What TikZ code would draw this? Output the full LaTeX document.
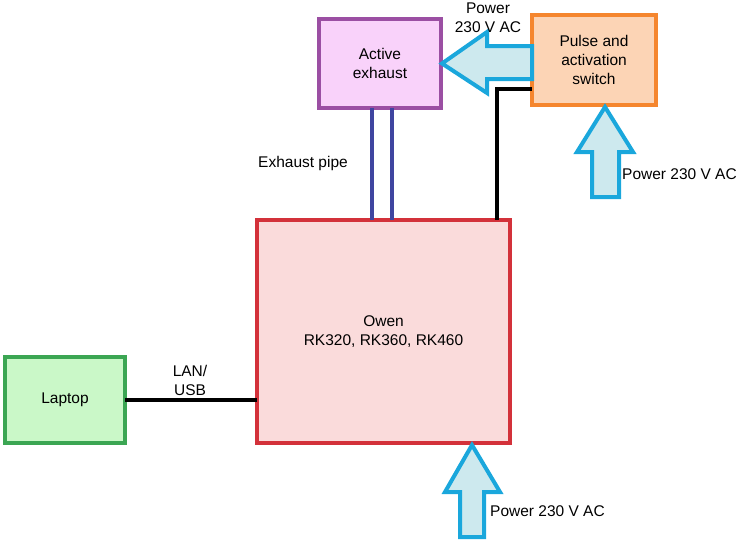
\documentclass[tikz,border=0pt]{standalone}
\usepackage{fontspec}
\setmainfont{Liberation Sans}
\usetikzlibrary{calc}
\definecolor{exhB}{HTML}{9B4FA3}
\definecolor{exhF}{HTML}{F9D2FA}
\definecolor{pulB}{HTML}{F5862E}
\definecolor{pulF}{HTML}{FCD4B5}
\definecolor{owB}{HTML}{D3313A}
\definecolor{owF}{HTML}{FADBDB}
\definecolor{lapB}{HTML}{3BA653}
\definecolor{lapF}{HTML}{CAF8C8}
\definecolor{arrB}{HTML}{1AA7DC}
\definecolor{arrF}{HTML}{CDE9EE}
\definecolor{pipe}{HTML}{3F45A0}
\tikzset{
  box/.style={draw, line width=4pt, outer sep=0pt, inner sep=0pt, align=center, font=\fontsize{15.5}{19}\selectfont},
  lbl/.style={align=center, font=\fontsize{15.5}{19}\selectfont, inner sep=0pt},
  powarrow/.style={draw=arrB, fill=arrF, line width=4pt, line join=miter},
  wire/.style={line width=4pt, black},
  pipeline/.style={line width=4pt, pipe}
}
\begin{document}
\begin{tikzpicture}[x=1pt,y=-1pt]
\useasboundingbox (0,0) rectangle (737,541);
\node[box, draw=exhB, fill=exhF, minimum width=122pt, minimum height=89pt] (exh) at (380,63.5) {Active\\exhaust};
\node[box, draw=pulB, fill=pulF, minimum width=124pt, minimum height=90pt] (pul) at (594,60) {Pulse and\\activation\\switch};
\node[box, draw=owB, fill=owF, minimum width=253pt, minimum height=223pt] (owen) at (383.5,331.5) {Owen\\RK320, RK360, RK460};
\node[box, draw=lapB, fill=lapF, minimum width=120pt, minimum height=86pt] (lap) at (65,400) {Laptop};
% exhaust pipe
\draw[pipeline] (exh.south -| 372,0) -- (owen.north -| 372,0);
\draw[pipeline] (exh.south -| 392,0) -- (owen.north -| 392,0);
% control wire
\coordinate (bend) at (497,89);
\draw[wire] (pul.west |- bend) -- (bend) -- (bend |- owen.north);
% LAN
\draw[wire] (lap.east) -- (lap.east -| owen.west);
% power arrow to exhaust
\draw[powarrow] ($(exh.east)+(1,0)$) -- (487,32) -- (487,46) -- (pul.west |- 0,46) -- (pul.west |- 0,79) -- (487,79) -- (487,93) -- cycle;
% power arrow to pulse switch
\draw[powarrow] ($(pul.south)+(11,2)$) -- (633,152) -- (619,152) -- (619,197) -- (592,197) -- (592,152) -- (577,152) -- cycle;
% power arrow to owen
\draw[powarrow] ($(owen.south)+(88.5,2)$) -- (500,492) -- (484,492) -- (484,537) -- (460,537) -- (460,492) -- (445,492) -- cycle;
% labels
\node[lbl] (lp1) at (488,18) {Power\\230 V AC};
\node[lbl, anchor=west] (lp2) at (622,174) {Power 230 V AC};
\node[lbl, anchor=west] (lp3) at (490,511) {Power 230 V AC};
\node[lbl] (lpipe) at (303,163) {Exhaust pipe};
\node[lbl] (llan) at (190,380) {LAN/\\USB};
\end{tikzpicture}
\end{document}
